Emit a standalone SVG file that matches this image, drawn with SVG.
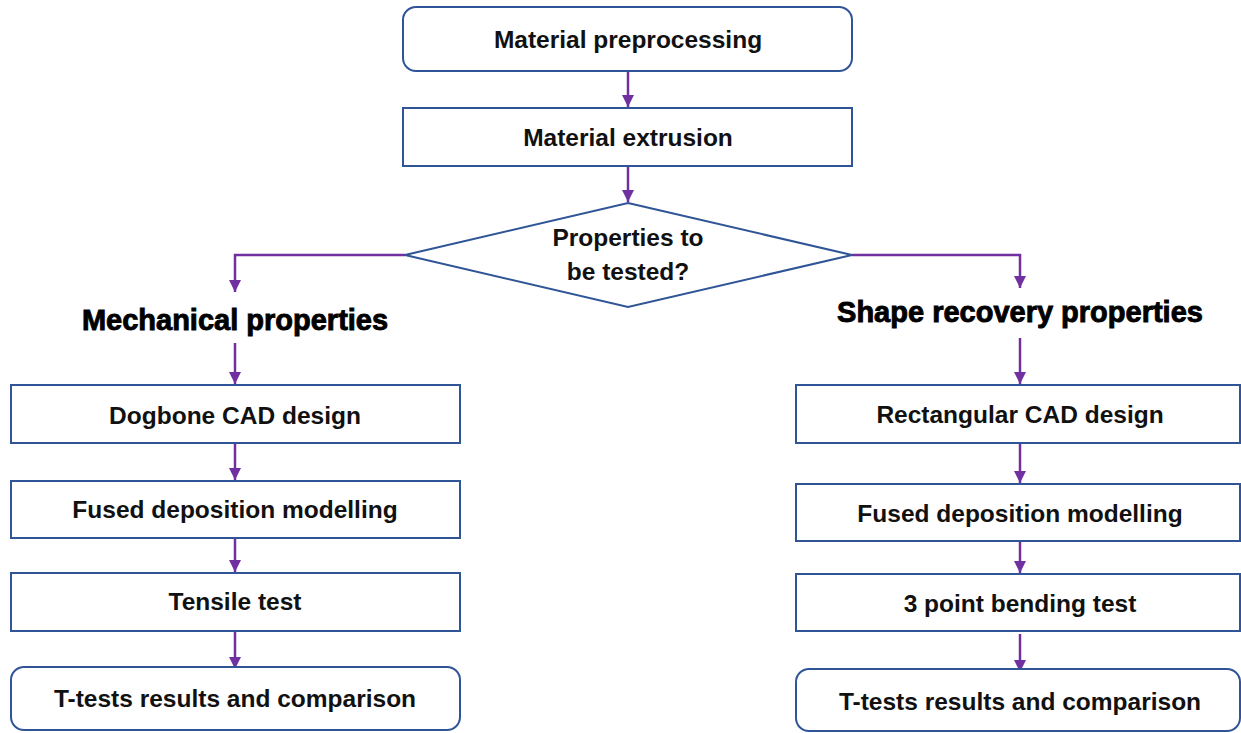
<svg xmlns="http://www.w3.org/2000/svg" width="1241" height="733" viewBox="0 0 1241 733">
<style>
.box{fill:#fff;stroke:#2F5597;stroke-width:2}
.t{font-family:"Liberation Sans",Arial,sans-serif;font-weight:bold;font-size:24.5px;fill:#111;text-anchor:middle}
.h{font-family:"Liberation Sans",Arial,sans-serif;font-weight:bold;font-size:29px;fill:#000;stroke:#000;stroke-width:0.9;text-anchor:middle}
.c{fill:none;stroke:#7030A0;stroke-width:2.5}
</style>
<defs>
<marker id="ah" viewBox="0 0 10 10" refX="10" refY="5" markerWidth="5" markerHeight="5" orient="auto" markerUnits="strokeWidth">
<path d="M0,0 L10,5 L0,10 z" fill="#7030A0"/>
</marker>
</defs>
<rect width="1241" height="733" fill="#fff"/>
<g id="connectors">
<path class="c" d="M628,71 V107" marker-end="url(#ah)"/>
<path class="c" d="M628,166 V202" marker-end="url(#ah)"/>
<path class="c" d="M405,255 H235 V292" marker-end="url(#ah)"/>
<path class="c" d="M852,255 H1020 V288" marker-end="url(#ah)"/>
<path class="c" d="M235,343 V384" marker-end="url(#ah)"/>
<path class="c" d="M235,443 V480" marker-end="url(#ah)"/>
<path class="c" d="M235,538 V572" marker-end="url(#ah)"/>
<path class="c" d="M235,631 V669" marker-end="url(#ah)"/>
<path class="c" d="M1020,338 V384" marker-end="url(#ah)"/>
<path class="c" d="M1020,443 V483" marker-end="url(#ah)"/>
<path class="c" d="M1020,541 V573" marker-end="url(#ah)"/>
<path class="c" d="M1020,634 V672" marker-end="url(#ah)"/>
</g>
<g id="n1"><rect class="box" x="403" y="7" width="449" height="64" rx="13"/><text class="t" x="628" y="48">Material preprocessing</text></g>
<g id="n2"><rect class="box" x="403" y="108" width="449" height="58"/><text class="t" x="628" y="146">Material extrusion</text></g>
<g id="n3"><polygon class="box" points="628,203 852,255 628,307 405,255"/><text class="t" x="628" y="246">Properties to</text><text class="t" x="628" y="280">be tested?</text></g>
<g id="n4"><text class="h" x="235" y="330">Mechanical properties</text></g>
<g id="n5"><text class="h" x="1020" y="322">Shape recovery properties</text></g>
<g id="n6"><rect class="box" x="11" y="385" width="449" height="58"/><text class="t" x="235" y="424">Dogbone CAD design</text></g>
<g id="n7"><rect class="box" x="11" y="481" width="449" height="57"/><text class="t" x="235" y="518">Fused deposition modelling</text></g>
<g id="n8"><rect class="box" x="11" y="573" width="449" height="58"/><text class="t" x="235" y="610">Tensile test</text></g>
<g id="n9"><rect class="box" x="11" y="667" width="449" height="63" rx="13"/><text class="t" x="235" y="707">T-tests results and comparison</text></g>
<g id="n10"><rect class="box" x="796" y="385" width="444" height="58"/><text class="t" x="1020" y="423">Rectangular CAD design</text></g>
<g id="n11"><rect class="box" x="796" y="484" width="444" height="57"/><text class="t" x="1020" y="522">Fused deposition modelling</text></g>
<g id="n12"><rect class="box" x="796" y="574" width="444" height="57"/><text class="t" x="1020" y="612">3 point bending test</text></g>
<g id="n13"><rect class="box" x="796" y="669" width="444" height="62" rx="13"/><text class="t" x="1020" y="710">T-tests results and comparison</text></g>
</svg>
